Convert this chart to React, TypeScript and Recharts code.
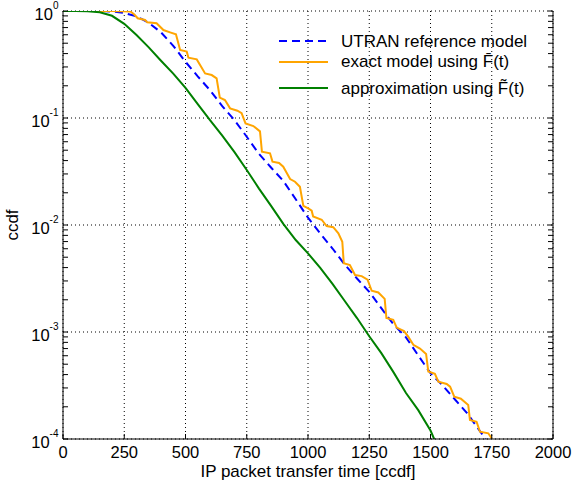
import React from "react";
import { LineChart, Line, XAxis, YAxis, CartesianGrid, Legend } from "recharts";

const FONT = "'Liberation Sans', Arial, Helvetica, sans-serif";

// axis ticks
const xTicks = [0, 250, 500, 750, 1000, 1250, 1500, 1750, 2000];
const decadeTicks = [0.0001, 0.001, 0.01, 0.1, 1];
const decadeExponents = ["-4", "-3", "-2", "-1", "0"];
const minorSteps = [2, 3, 4, 5, 6, 7, 8, 9];

// UTRAN reference model (blue dashed)
const utranT = [
  0, 100, 150, 200, 250, 300, 350, 400, 450, 500, 550, 600, 650, 700, 750, 800,
  850, 900, 950, 1000, 1050, 1100, 1150, 1200, 1250, 1300, 1350, 1400, 1450,
  1500, 1550, 1600, 1650, 1700, 1725,
];
const utranCcdf = [
  1, 1, 1, 0.989, 0.959, 0.891, 0.776, 0.631, 0.473, 0.335, 0.245, 0.182,
  0.129, 0.0955, 0.0668, 0.0462, 0.0343, 0.0257, 0.0174, 0.0117, 0.00832,
  0.00603, 0.00427, 0.00316, 0.00237, 0.00166, 0.00117, 0.000891, 0.000603,
  0.000412, 0.000316, 0.000234, 0.000174, 0.00012, 0.0001,
];

// exact model (orange, stepped)
const exactT = [
  0, 100, 200, 275, 290, 305, 335, 344, 382, 410, 437, 461, 478, 505, 512, 546,
  580, 607, 627, 640, 661, 682, 712, 729, 745, 777, 804, 812, 845, 855, 882,
  899, 927, 947, 967, 981, 1001, 1015, 1021, 1056, 1076, 1103, 1124, 1140,
  1146, 1171, 1192, 1219, 1243, 1260, 1287, 1313, 1320, 1348, 1362, 1392,
  1409, 1430, 1457, 1482, 1491, 1518, 1532, 1566, 1580, 1597, 1624, 1654,
  1661, 1688, 1702, 1736, 1750,
];
const exactCcdf = [
  1, 1, 1, 0.989, 0.933, 0.855, 0.824, 0.783, 0.767, 0.664, 0.632, 0.605,
  0.433, 0.417, 0.366, 0.353, 0.261, 0.252, 0.235, 0.155, 0.147, 0.123, 0.117,
  0.111, 0.0891, 0.0841, 0.075, 0.0484, 0.0468, 0.0391, 0.038, 0.0351, 0.0269,
  0.0254, 0.0228, 0.0151, 0.0143, 0.0136, 0.012, 0.0112, 0.00977, 0.00955,
  0.00836, 0.00698, 0.00439, 0.00423, 0.00341, 0.00333, 0.00309, 0.00243,
  0.00234, 0.00204, 0.00135, 0.0013, 0.0011, 0.00102, 0.000904, 0.000759,
  0.0007, 0.000624, 0.000427, 0.000407, 0.000344, 0.000327, 0.000308,
  0.000249, 0.000238, 0.000208, 0.000151, 0.000145, 0.000117, 0.000113,
  0.000101,
];

// approximation (green)
const approxT = [
  0, 50, 100, 150, 200, 250, 300, 350, 400, 450, 500, 550, 600, 650, 700, 750,
  800, 850, 900, 950, 1000, 1050, 1100, 1150, 1200, 1250, 1300, 1350, 1400,
  1450, 1500, 1515,
];
const approxCcdf = [
  1, 1, 0.995, 0.973, 0.902, 0.759, 0.596, 0.457, 0.343, 0.26, 0.191, 0.135,
  0.0955, 0.0684, 0.0479, 0.0327, 0.0219, 0.015, 0.0102, 0.00724, 0.00543,
  0.00398, 0.00282, 0.00195, 0.00135, 0.000912, 0.000631, 0.000417, 0.000269,
  0.000186, 0.00012, 0.0001,
];

const toPoints = (t: number[], v: number[]) =>
  t.map((x, i) => ({ t: x, v: v[i] }));

const utranData = toPoints(utranT, utranCcdf);
const exactData = toPoints(exactT, exactCcdf);
const approxData = toPoints(approxT, approxCcdf);

const yTicks = decadeTicks
  .flatMap((d, i) =>
    i < decadeTicks.length - 1 ? [d, ...minorSteps.map((m) => m * d)] : [d]
  );

const legendItems = [
  { label: "UTRAN reference model", color: "#0000ff", dash: "8 5" },
  { label: "exact model using F\u0304(t)", color: "#ffa500", dash: undefined },
  { label: "approximation using F\u0303(t)", color: "#008000", dash: undefined },
];
const legendLineY = [21, 42, 68];
const legendTextY = [27, 47, 74];

const LeftTick = (props: any) => {
  const { x, y, payload } = props;
  const idx = decadeTicks.indexOf(payload.value);
  return (
    <g>
      <line x1={x} y1={y} x2={x + 5} y2={y} stroke="#000" />
      {idx >= 0 && (
        <text
          x={x - 4.5}
          y={y + 8.7}
          textAnchor="end"
          fontFamily={FONT}
          fontSize={16.5}
          fill="#000"
        >
          10
          <tspan dy={-10.5} fontSize={10}>
            {decadeExponents[idx]}
          </tspan>
        </text>
      )}
    </g>
  );
};

const RightTick = (props: any) => {
  const { x, y } = props;
  return <line x1={x} y1={y} x2={x - 5} y2={y} stroke="#000" />;
};

const BottomTick = (props: any) => {
  const { x, y, payload } = props;
  return (
    <g>
      <line x1={x} y1={y} x2={x} y2={y - 5} stroke="#000" />
      <text
        x={x}
        y={y + 19}
        textAnchor="middle"
        fontFamily={FONT}
        fontSize={16.5}
        fill="#000"
      >
        {payload.value}
      </text>
    </g>
  );
};

const TopTick = (props: any) => {
  const { x, y } = props;
  return <line x1={x} y1={y} x2={x} y2={y + 5} stroke="#000" />;
};

const renderLegend = () => (
  <svg width={300} height={90}>
    {legendItems.map((item, i) => (
      <g key={item.label}>
        <line
          x1={9}
          x2={58}
          y1={legendLineY[i]}
          y2={legendLineY[i]}
          stroke={item.color}
          strokeWidth={2}
          strokeDasharray={item.dash}
        />
        <text
          x={71}
          y={legendTextY[i]}
          fontFamily={FONT}
          fontSize={17}
          fill="#000"
        >
          {item.label}
        </text>
      </g>
    ))}
  </svg>
);

export default function App() {
  return (
    <div style={{ position: "absolute", left: 0, top: 0, background: "#fff" }}>
      <LineChart
        width={572}
        height={482}
        margin={{ top: 11, right: 0, bottom: 0, left: 0 }}
      >
        <CartesianGrid
          horizontalValues={decadeTicks}
          verticalValues={xTicks}
          stroke="#000"
          strokeDasharray="1 3"
        />
        <XAxis
          dataKey="t"
          type="number"
          domain={[0, 2000]}
          ticks={xTicks}
          allowDataOverflow
          height={43}
          tickSize={0}
          tickMargin={0}
          tickLine={false}
          tick={<BottomTick />}
          axisLine={{ stroke: "#000" }}
          label={{
            content: () => (
              <text
                x={308}
                y={477}
                textAnchor="middle"
                fontFamily={FONT}
                fontSize={17}
                fill="#000"
              >
                IP packet transfer time [ccdf]
              </text>
            ),
          }}
        />
        <XAxis
          xAxisId="top"
          orientation="top"
          type="number"
          domain={[0, 2000]}
          ticks={xTicks}
          allowDataOverflow
          height={0}
          tickSize={0}
          tickMargin={0}
          tickLine={false}
          tick={<TopTick />}
          axisLine={{ stroke: "#000" }}
        />
        <YAxis
          type="number"
          scale="log"
          domain={[0.0001, 1]}
          ticks={yTicks}
          allowDataOverflow
          width={63}
          tickSize={0}
          tickMargin={0}
          tickLine={false}
          tick={<LeftTick />}
          axisLine={{ stroke: "#000" }}
          interval={0}
          label={{
            content: () => (
              <text
                x={18}
                y={225}
                transform="rotate(-90, 18, 225)"
                textAnchor="middle"
                fontFamily={FONT}
                fontSize={17}
                fill="#000"
              >
                ccdf
              </text>
            ),
          }}
        />
        <YAxis
          yAxisId="right"
          orientation="right"
          type="number"
          scale="log"
          domain={[0.0001, 1]}
          ticks={yTicks}
          allowDataOverflow
          width={19}
          tickSize={0}
          tickMargin={0}
          tickLine={false}
          tick={<RightTick />}
          axisLine={{ stroke: "#000" }}
          interval={0}
        />
        <Legend
          layout="vertical"
          align="center"
          verticalAlign="middle"
          wrapperStyle={{ left: 270, top: 20, width: 300, height: 90 }}
          content={renderLegend}
        />
        <Line
          data={utranData}
          dataKey="v"
          type="linear"
          stroke="#0000ff"
          strokeWidth={2}
          strokeDasharray="8 5"
          dot={false}
          isAnimationActive={false}
        />
        <Line
          data={exactData}
          dataKey="v"
          type="linear"
          stroke="#ffa500"
          strokeWidth={2}
          dot={false}
          isAnimationActive={false}
        />
        <Line
          data={approxData}
          dataKey="v"
          type="linear"
          stroke="#008000"
          strokeWidth={2}
          dot={false}
          isAnimationActive={false}
        />
      </LineChart>
    </div>
  );
}
